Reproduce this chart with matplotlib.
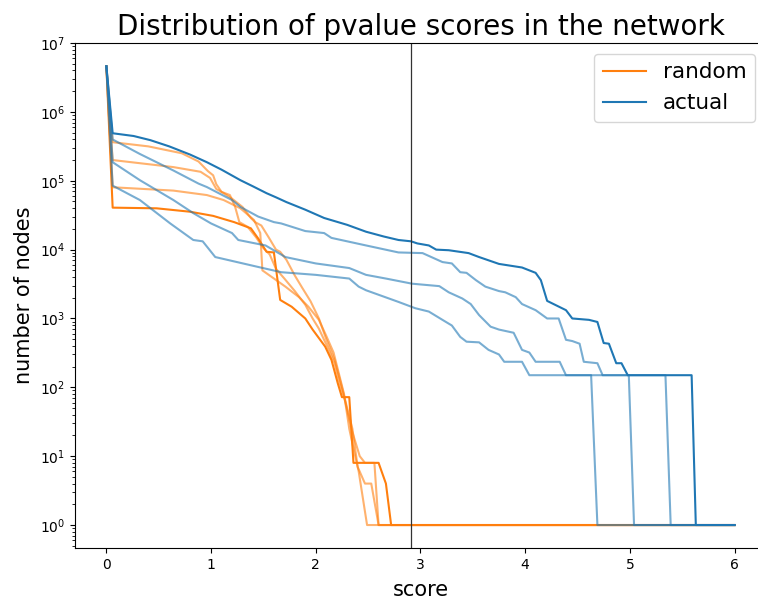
import matplotlib
matplotlib.use("Agg")
import matplotlib.pyplot as plt
from matplotlib.ticker import LogLocator, NullFormatter

# ---- data ----
random_dark_x = [0, 0.06, 0.48, 0.80, 1.02, 1.22, 1.38, 1.45, 1.53, 1.60, 1.66, 1.77, 1.90, 1.97, 2.09, 2.15, 2.21, 2.25, 2.32, 2.36, 2.60, 2.67, 2.72, 6.0]
random_dark_y = [4600000, 40700, 39800, 35500, 30900, 25100, 20400, 14500, 9300, 9100, 1860, 1480, 1000, 690, 390, 250, 115, 72, 72, 8, 8, 4, 1, 1]

random_a_x = [0, 0.06, 0.40, 0.72, 0.88, 0.97, 1.02, 1.05, 1.10, 1.18, 1.23, 1.27, 1.35, 1.43, 1.50, 1.56, 1.62, 1.70, 1.80, 1.90, 1.97, 2.03, 2.10, 2.18, 2.22, 2.28, 2.34, 2.42, 2.47, 2.56, 2.60, 6.0]
random_a_y = [4600000, 363000, 316000, 251000, 190500, 138000, 120000, 89000, 69000, 62000, 41700, 25100, 21400, 15100, 10500, 8500, 5250, 3800, 2500, 1580, 1000, 710, 420, 224, 126, 63, 25, 10, 8, 8, 1, 1]

random_b_x = [0, 0.06, 0.64, 0.90, 0.99, 1.05, 1.12, 1.20, 1.30, 1.38, 1.42, 1.48, 1.55, 1.62, 1.66, 1.72, 1.80, 1.87, 1.95, 2.03, 2.10, 2.18, 2.25, 2.30, 2.35, 2.40, 2.47, 2.53, 2.60, 6.0]
random_b_y = [4600000, 200000, 158000, 135000, 110000, 76000, 66000, 55000, 41700, 28800, 25100, 22400, 15100, 10000, 9300, 7100, 4200, 2800, 1780, 1000, 500, 250, 100, 50, 25, 7, 4, 4, 1, 1]

random_c_x = [0, 0.06, 0.64, 0.96, 1.12, 1.28, 1.41, 1.47, 1.49, 1.58, 1.71, 1.84, 1.93, 2.03, 2.10, 2.17, 2.22, 2.27, 2.32, 2.36, 2.41, 2.49, 6.0]
random_c_y = [4600000, 80500, 72000, 62000, 52500, 39800, 26900, 17400, 5000, 4000, 2900, 2040, 1480, 955, 560, 320, 160, 80, 25, 13, 6, 1, 1]

actual_dark_x = [0, 0.06, 0.26, 0.42, 0.60, 0.80, 0.96, 1.10, 1.28, 1.40, 1.53, 1.62, 1.72, 1.90, 2.08, 2.30, 2.48, 2.65, 2.79, 2.91, 2.97, 3.08, 3.15, 3.27, 3.46, 3.56, 3.75, 3.97, 4.10, 4.15, 4.21, 4.39, 4.45, 4.61, 4.69, 4.75, 4.80, 4.87, 4.92, 4.98, 5.59, 5.63, 6.0]
actual_dark_y = [4600000, 490000, 447000, 389000, 316000, 240000, 186000, 145000, 102000, 83000, 66000, 57500, 49000, 38000, 28800, 22900, 18200, 15500, 13800, 13200, 12300, 11500, 10000, 9800, 8900, 7800, 6200, 5500, 4600, 3600, 1800, 1320, 1000, 955, 890, 440, 430, 224, 224, 150, 150, 1, 1]

actual_b_x = [0, 0.06, 0.32, 0.64, 0.88, 0.96, 1.20, 1.28, 1.45, 1.60, 1.67, 1.90, 2.08, 2.15, 2.48, 2.79, 3.02, 3.21, 3.30, 3.38, 3.44, 3.53, 3.62, 3.75, 3.81, 3.91, 3.97, 4.10, 4.21, 4.32, 4.39, 4.45, 4.52, 4.56, 4.69, 4.74, 5.34, 5.39, 6.0]
actual_b_y = [4600000, 398000, 245000, 141000, 91000, 81000, 52500, 41700, 30200, 25100, 24000, 18600, 17400, 14800, 11500, 9100, 8900, 6600, 6300, 4700, 4600, 3600, 2900, 2500, 2400, 2040, 1620, 1320, 1000, 1000, 490, 470, 430, 235, 224, 150, 150, 1, 1]

actual_c_x = [0, 0.06, 0.32, 0.64, 0.83, 1.0, 1.20, 1.26, 1.52, 1.71, 2.0, 2.32, 2.48, 2.67, 2.92, 3.18, 3.27, 3.40, 3.48, 3.56, 3.67, 3.75, 3.89, 3.97, 4.04, 4.10, 4.33, 4.39, 4.99, 5.04, 6.0]
actual_c_y = [4600000, 186000, 102000, 52500, 33900, 24000, 17400, 13800, 11500, 7800, 6300, 5400, 4300, 3800, 3200, 2950, 2400, 1950, 1620, 1120, 760, 690, 620, 350, 320, 235, 235, 150, 150, 1, 1]

actual_d_x = [0, 0.06, 0.32, 0.61, 0.83, 0.92, 1.04, 1.45, 1.67, 2.0, 2.32, 2.41, 2.48, 2.79, 2.95, 3.08, 3.21, 3.30, 3.38, 3.44, 3.56, 3.65, 3.75, 3.80, 3.97, 4.04, 4.63, 4.69, 6.0]
actual_d_y = [4600000, 85000, 52500, 24000, 13800, 13200, 7800, 5600, 4700, 4300, 3800, 2900, 2570, 1740, 1410, 1260, 955, 790, 540, 460, 450, 350, 300, 235, 235, 150, 150, 1, 1]

threshold = 2.91

ORANGE = "#ff7f0e"
BLUE = "#1f77b4"

fig = plt.figure(figsize=(7.58, 5.99), dpi=100)
ax = fig.add_axes([0.0989, 0.0851, 0.9116, 0.843])

light_alpha = 0.6
for xs, ys in [(random_a_x, random_a_y), (random_b_x, random_b_y), (random_c_x, random_c_y)]:
    ax.plot(xs, ys, color=ORANGE, alpha=light_alpha, lw=1.5)
ax.plot(random_dark_x, random_dark_y, color=ORANGE, lw=1.5, label="random")
for xs, ys in [(actual_d_x, actual_d_y), (actual_c_x, actual_c_y), (actual_b_x, actual_b_y)]:
    ax.plot(xs, ys, color=BLUE, alpha=light_alpha, lw=1.5)
ax.plot(actual_dark_x, actual_dark_y, color=BLUE, lw=1.5, label="actual")

ax.axvline(threshold, color="#333333", lw=0.9)
ax.set_yscale("log")
ax.set_xlim(-0.3, 6.3)
ax.set_ylim(10 ** -0.334, 1.0e7)
ax.yaxis.set_major_locator(LogLocator(base=10, numticks=20))
ax.yaxis.set_minor_locator(LogLocator(base=10, subs=[2, 3, 4, 5, 6, 7, 8, 9], numticks=40))
ax.yaxis.set_minor_formatter(NullFormatter())
ax.set_title("Distribution of pvalue scores in the network", fontsize=20)
ax.set_xlabel("score", fontsize=15, labelpad=6)
ax.set_ylabel("number of nodes", fontsize=15)
ax.tick_params(labelsize=10)
ax.legend(loc="upper right", fontsize=15.5)

fig.savefig("out.png", dpi=100)
